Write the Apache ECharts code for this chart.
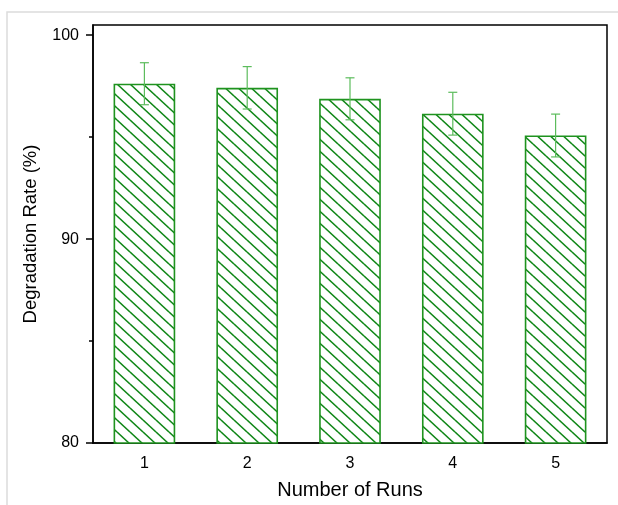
<!DOCTYPE html>
<html>
<head>
<meta charset="utf-8">
<script src="https://cdn.jsdelivr.net/npm/echarts@6/dist/echarts.min.js"></script>
<style>
html,body{margin:0;padding:0;background:#fff;}
#chart{width:618px;height:505px;}
</style>
</head>
<body>
<div id="chart"></div>
<script>
const categories = ['1', '2', '3', '4', '5'];
const rates = [97.62, 97.42, 96.88, 96.15, 95.08];
const errors = [1.03, 1.04, 1.03, 1.05, 1.05];
const yMajorTicks = [80, 90, 100];
const yMinorTicks = [85, 95];

function hatch() {
  const w = 13, h = 12;
  const c = document.createElement('canvas');
  c.width = w; c.height = h;
  const g = c.getContext('2d');
  g.fillStyle = '#ffffff';
  g.fillRect(0, 0, w, h);
  g.strokeStyle = '#0f8616';
  g.lineWidth = 1.5;
  [[-w, 0], [0, 0], [w, 0], [0, -h], [0, h]].forEach(function (o) {
    g.beginPath();
    g.moveTo(o[0], o[1]);
    g.lineTo(o[0] + w, o[1] + h);
    g.stroke();
  });
  return c;
}

const chart = echarts.init(document.getElementById('chart'), null, {renderer: 'canvas'});
const font = 'Liberation Sans, Arial, sans-serif';
const errData = categories.map(function (c, i) { return [i, rates[i] - errors[i], rates[i] + errors[i]]; });

chart.setOption({
  animation: false,
  backgroundColor: '#fff',
  graphic: [{
    type: 'rect', silent: true, z: -10,
    shape: {x: 7, y: 12, width: 700, height: 600},
    style: {fill: 'none', stroke: '#dcdcdc', lineWidth: 1.5}
  }],
  grid: {left: 93, top: 25, right: 11, bottom: 61, show: true, borderColor: '#000', borderWidth: 1.5, backgroundColor: 'transparent'},
  xAxis: {
    type: 'category',
    data: categories,
    name: 'Number of Runs',
    nameLocation: 'middle',
    nameGap: 37,
    nameTextStyle: {fontSize: 20, color: '#000', fontFamily: font},
    axisLine: {lineStyle: {color: '#000', width: 1.5}},
    axisTick: {alignWithLabel: true, length: 7, lineStyle: {color: '#000', width: 1.5}},
    axisLabel: {fontSize: 16, color: '#000', fontFamily: font, margin: 13},
    splitLine: {show: false}
  },
  yAxis: [{
    type: 'value',
    min: 80, max: 100.5,
    interval: 10,
    name: 'Degradation Rate (%)',
    nameLocation: 'middle',
    nameGap: 53,
    nameTextStyle: {fontSize: 18.5, color: '#000', fontFamily: font},
    axisLine: {show: true, lineStyle: {color: '#000', width: 1.5}},
    axisTick: {show: true, length: 7, customValues: yMajorTicks, lineStyle: {color: '#000', width: 1.5}},
    axisLabel: {fontSize: 16, color: '#000', fontFamily: font, margin: 14, customValues: yMajorTicks},
    splitLine: {show: false}
  }, {
    type: 'value',
    position: 'left',
    min: 80, max: 100.5,
    axisLine: {show: false},
    axisTick: {show: true, length: 4, customValues: yMinorTicks, lineStyle: {color: '#000', width: 1.5}},
    axisLabel: {show: false, customValues: yMinorTicks},
    splitLine: {show: false}
  }],
  series: [{
    type: 'bar',
    data: rates,
    barWidth: '60%',
    itemStyle: {color: {image: hatch(), repeat: 'repeat'}, borderColor: '#1f931f', borderWidth: 1.6},
    z: 2
  }, {
    type: 'custom',
    data: errData,
    z: 5,
    renderItem: function (params, api) {
      const x = api.value(0);
      const lo = api.coord([x, api.value(1)]);
      const hi = api.coord([x, api.value(2)]);
      const cw = 4.5;
      const st = {stroke: '#5cbc5c', lineWidth: 1.2};
      return {
        type: 'group',
        children: [
          {type: 'line', shape: {x1: hi[0], y1: hi[1], x2: lo[0], y2: lo[1]}, style: st},
          {type: 'line', shape: {x1: hi[0] - cw, y1: hi[1], x2: hi[0] + cw, y2: hi[1]}, style: st},
          {type: 'line', shape: {x1: lo[0] - cw, y1: lo[1], x2: lo[0] + cw, y2: lo[1]}, style: st}
        ]
      };
    }
  }]
});
</script>
</body>
</html>
